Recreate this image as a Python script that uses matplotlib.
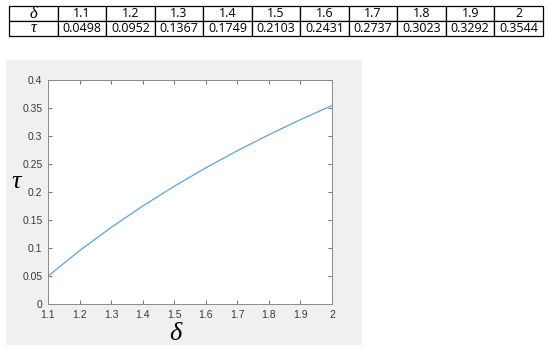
import numpy as np
import matplotlib.pyplot as plt
from matplotlib import patches

delta = [1.1, 1.2, 1.3, 1.4, 1.5, 1.6, 1.7, 1.8, 1.9, 2]
tau = [0.0498, 0.0952, 0.1367, 0.1749, 0.2103, 0.2431, 0.2737, 0.3023, 0.3292, 0.3544]
delta_labels = ['1.1', '1.2', '1.3', '1.4', '1.5', '1.6', '1.7', '1.8', '1.9', '2']
tau_labels = ['0.0498', '0.0952', '0.1367', '0.1749', '0.2103',
              '0.2431', '0.2737', '0.3023', '0.3292', '0.3544']
yticks = [0, 0.05, 0.1, 0.15, 0.2, 0.25, 0.3, 0.35, 0.4]

W, H = 550, 353
fig = plt.figure(figsize=(W / 100, H / 100), dpi=100)
fig.patch.set_facecolor('white')

def fx(px):
    return px / W

def fy(py):
    return 1 - py / H

# grey matlab figure panel
panel = patches.Rectangle((fx(6), fy(345)), fx(356), (345 - 60) / H,
                          transform=fig.transFigure, fc='#f0f0f0', ec='none', zorder=-10)
fig.patches.append(panel)

# table on top
tax = fig.add_axes([fx(9), fy(36), fx(534), 30 / H])
tax.axis('off')
cells = [['δ'] + delta_labels, ['τ'] + tau_labels]
tbl = tax.table(cellText=cells, bbox=[0, 0, 1, 1], cellLoc='center')
tbl.auto_set_font_size(False)
for (r, c), cell in tbl.get_celld().items():
    cell.set_linewidth(0.9)
    cell.set_edgecolor('black')
    txt = cell.get_text()
    if c == 0:
        txt.set_fontfamily('Liberation Serif')
        txt.set_fontstyle('italic')
        txt.set_fontsize(12)
    else:
        txt.set_fontfamily('Open Sans')
        txt.set_fontsize(9)

# main axes
ax = fig.add_axes([fx(48), fy(304), fx(284), (304 - 80) / H], zorder=2)
ax.set_facecolor('white')
ax.plot(delta, tau, color='#5da3d6', lw=0.9)
ax.set_xlim(1.1, 2)
ax.set_ylim(0, 0.4)
ax.set_xticks(delta)
ax.set_xticklabels(delta_labels)
ax.set_yticks(yticks)
ax.set_yticklabels(['%g' % v for v in yticks])
ax.tick_params(direction='in', top=True, right=True, length=3, width=0.6,
               colors='#606060', labelcolor='#3a3a3a', labelsize=7.5)
ax.tick_params(axis='x', pad=4)
ax.tick_params(axis='y', pad=4)
for lab in ax.get_xticklabels() + ax.get_yticklabels():
    lab.set_fontfamily('Liberation Sans')
for s in ax.spines.values():
    s.set_color('#8a8a8a')
    s.set_linewidth(0.7)

fig.text(fx(16), fy(182), 'τ', fontfamily='Liberation Serif', fontstyle='italic',
         fontsize=19, ha='center', va='center')
fig.text(fx(175), fy(334), 'δ', fontfamily='Liberation Serif', fontstyle='italic',
         fontsize=19, ha='center', va='center')

fig.savefig('out.png', dpi=100)
